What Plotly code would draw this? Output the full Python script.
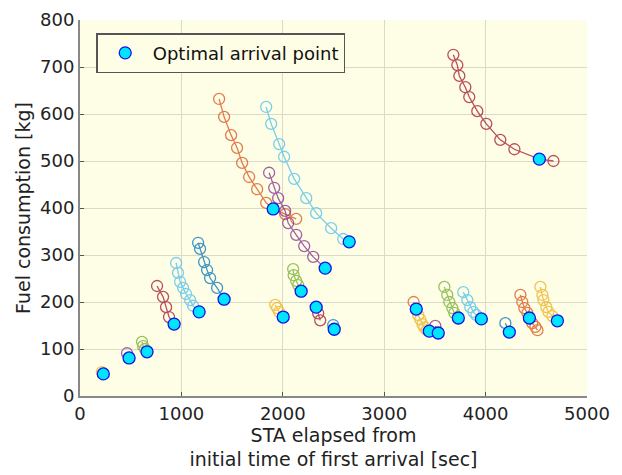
import plotly.graph_objects as go

# candidate arrival points per aircraft: STA elapsed [sec], fuel [kg]
series_x = [
    [215, 230],
    [464, 484],
    [612, 622, 640, 661],
    [760, 819, 849, 878, 928],
    [948, 967, 987, 1017, 1046, 1086, 1115, 1175],
    [1165, 1184, 1224, 1253, 1283, 1352, 1421],
    [1372, 1421, 1490, 1549, 1599, 1668, 1747, 1836, 1905, 2023, 2132],
    [1836, 1885, 1964, 2013, 2112, 2231, 2329, 2477, 2596, 2655],
    [1865, 1915, 1954, 2023, 2053, 2132, 2211, 2300, 2418],
    [2102, 2107, 2132, 2152, 2181],
    [1925, 1944, 1964, 2004],
    [2329, 2349, 2369],
    [2497, 2507],
    [3290, 3316],
    [3336, 3356, 3376, 3395, 3420, 3445],
    [3504, 3533],
    [3593, 3622, 3642, 3672, 3691, 3731],
    [3780, 3820, 3849, 3879, 3909, 3958],
    [4195, 4234],
    [4343, 4362, 4382, 4412, 4432, 4461, 4491, 4511],
    [4540, 4560, 4570, 4599, 4619, 4659, 4708],
    [3682, 3721, 3741, 3800, 3839, 3918, 4007, 4145, 4284, 4530, 4669],
]
series_y = [
    [51, 47],
    [91, 81],
    [115, 106, 100, 94],
    [234, 211, 189, 168, 153],
    [283, 262, 243, 230, 217, 204, 192, 179],
    [326, 313, 285, 268, 251, 230, 206],
    [632, 594, 555, 528, 496, 466, 440, 411, 398, 387, 377],
    [615, 579, 536, 509, 462, 421, 389, 357, 334, 328],
    [475, 443, 421, 394, 368, 343, 319, 296, 272],
    [270, 257, 245, 236, 223],
    [194, 187, 179, 168],
    [189, 176, 161],
    [151, 142],
    [200, 185],
    [172, 163, 153, 146, 140, 138],
    [149, 134],
    [232, 215, 200, 187, 177, 166],
    [221, 204, 189, 179, 172, 164],
    [155, 136],
    [215, 200, 187, 177, 166, 155, 147, 140],
    [232, 215, 204, 189, 179, 170, 160],
    [726, 704, 681, 657, 636, 606, 579, 545, 525, 504, 500],
]
series_color = [
    "#EDB120", "#7E2F8E", "#77AC30", "#A2142F", "#4DBEEE", "#0072BD",
    "#D95319", "#4DBEEE", "#7E2F8E", "#77AC30", "#EDB120", "#A2142F",
    "#0072BD", "#D95319", "#EDB120", "#7E2F8E", "#77AC30", "#4DBEEE",
    "#0072BD", "#D95319", "#EDB120", "#A2142F",
]

opt_x = [230, 484, 661, 928, 1175, 1421, 1905, 2655, 2418, 2181, 2004,
         2329, 2507, 3316, 3445, 3533, 3731, 3958, 4234, 4432, 4708, 4530]
opt_y = [47, 81, 94, 153, 179, 206, 398, 328, 272, 223, 168,
         189, 142, 185, 138, 134, 166, 164, 136, 166, 160, 504]

FONT = "DejaVu Sans, sans-serif"

fig = go.Figure()
for xs, ys, c in zip(series_x, series_y, series_color):
    fig.add_trace(go.Scatter(
        x=xs, y=ys, mode="lines+markers", showlegend=False, opacity=0.75,
        line=dict(color=c, width=1.3),
        marker=dict(symbol="circle-open", size=11, color=c, line=dict(width=1.3)),
        hoverinfo="skip"))

fig.add_trace(go.Scatter(
    x=opt_x, y=opt_y, mode="markers", name="Optimal arrival point",
    marker=dict(size=12, color="#00E5FF", line=dict(color="#1515E8", width=1.3))))

# page body adds ~8px offset, so margins are shifted to compensate
fig.update_layout(
    width=622, height=475,
    margin=dict(l=72, r=43, t=12, b=87),
    paper_bgcolor="white", plot_bgcolor="#FEFEE6",
    font=dict(family=FONT, size=18, color="#222"),
    legend=dict(x=0.032, y=0.965, xanchor="left", yanchor="top",
                bgcolor="#FEFEE6", bordercolor="#555", borderwidth=1.5,
                itemwidth=45, font=dict(size=18, color="#111")),
)
fig.update_xaxes(
    range=[0, 5000], dtick=1000, showgrid=True, gridcolor="#DADAC8", gridwidth=1,
    zeroline=False, showline=True, linecolor="#888", linewidth=2, mirror=False,
    ticks="inside", ticklen=4, tickcolor="#555", automargin=False,
    title=dict(text="STA elapsed from<br>initial time of first arrival [sec]",
               standoff=2, font=dict(size=19)))
fig.update_yaxes(
    range=[0, 800], dtick=100, showgrid=True, gridcolor="#DADAC8", gridwidth=1,
    zeroline=False, showline=True, linecolor="#888", linewidth=2, mirror=False,
    ticks="inside", ticklen=4, tickcolor="#555", automargin=False,
    title=dict(text="Fuel consumption [kg]", standoff=4, font=dict(size=19)))

fig.write_html("out.html")
